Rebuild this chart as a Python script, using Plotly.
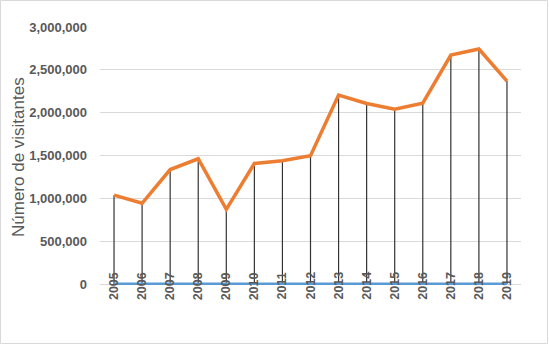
import plotly.graph_objects as go

years = ["2005", "2006", "2007", "2008", "2009", "2010", "2011", "2012",
         "2013", "2014", "2015", "2016", "2017", "2018", "2019"]
visitors = [1037000, 942000, 1336000, 1462000, 871000, 1407000, 1438000, 1498000,
            2205000, 2107000, 2041000, 2111000, 2672000, 2743000, 2369000]
year_values = [2005, 2006, 2007, 2008, 2009, 2010, 2011, 2012,
               2013, 2014, 2015, 2016, 2017, 2018, 2019]
y_ticks = [0, 500000, 1000000, 1500000, 2000000, 2500000, 3000000]
y_title = "Número de visitantes"

W, H = 549, 345
L, R, T, B = 100, 28, 27, 58
pw, ph = W - L - R, H - T - B
y_min = -3000000 * 3 / (ph - 3)  # small pad below zero so the zero-level line is not clipped

fig = go.Figure()

# drop lines (error bars from value down to zero)
fig.add_trace(go.Scatter(
    x=years, y=visitors, mode="markers",
    marker=dict(size=0.1, color="rgba(0,0,0,0)"),
    error_y=dict(type="data", symmetric=False, array=[0] * len(visitors),
                 arrayminus=visitors, width=0, thickness=1.2, color="#333333"),
    hoverinfo="skip", showlegend=False))

fig.add_trace(go.Scatter(
    x=years, y=visitors, mode="lines",
    line=dict(color="#ED7D31", width=3.5), showlegend=False))

fig.add_trace(go.Scatter(
    x=years, y=year_values, mode="lines",
    line=dict(color="#5B9BD5", width=2.5), showlegend=False))

annotations = []
for i, yr in enumerate(years):
    annotations.append(dict(
        x=i, y=0, xref="x", yref="y", text=yr, showarrow=False,
        textangle=-90, xanchor="center", yanchor="middle", yshift=-2,
        font=dict(family="Liberation Sans", size=12.5, color="#595959", weight="bold")))

annotations.append(dict(
    x=(18 - L) / pw, y=0.5, xref="paper", yref="paper", text=y_title,
    showarrow=False, textangle=-90, xanchor="center", yanchor="middle",
    font=dict(family="Liberation Sans", size=17, color="#595959")))

fig.update_layout(
    width=W, height=H,
    margin=dict(l=L, r=R, t=T, b=B, autoexpand=False),
    paper_bgcolor="white", plot_bgcolor="white",
    annotations=annotations,
    shapes=[dict(type="rect", xref="paper", yref="paper",
                 x0=-(L - 0.5) / pw, x1=1 + (R - 1.5) / pw,
                 y0=-(B - 1.5) / ph, y1=1 + (T - 0.5) / ph,
                 line=dict(color="#D9D9D9", width=1), layer="below")],
    xaxis=dict(range=[-0.5, 14.5], showticklabels=False,
               showgrid=False, zeroline=False, showline=False, ticks=""),
    yaxis=dict(range=[y_min, 3000000], tickvals=y_ticks, tickformat=",",
               showgrid=True, gridcolor="#D9D9D9", gridwidth=1,
               zeroline=False, showline=False, ticks="",
               ticklabelstandoff=12,
               tickfont=dict(family="Liberation Sans", size=13, color="#595959", weight="bold")),
)

fig.update_xaxes(type="category")

fig.write_html("out.html", config={"displayModeBar": False},
               post_script="document.body.style.margin='0px';")
